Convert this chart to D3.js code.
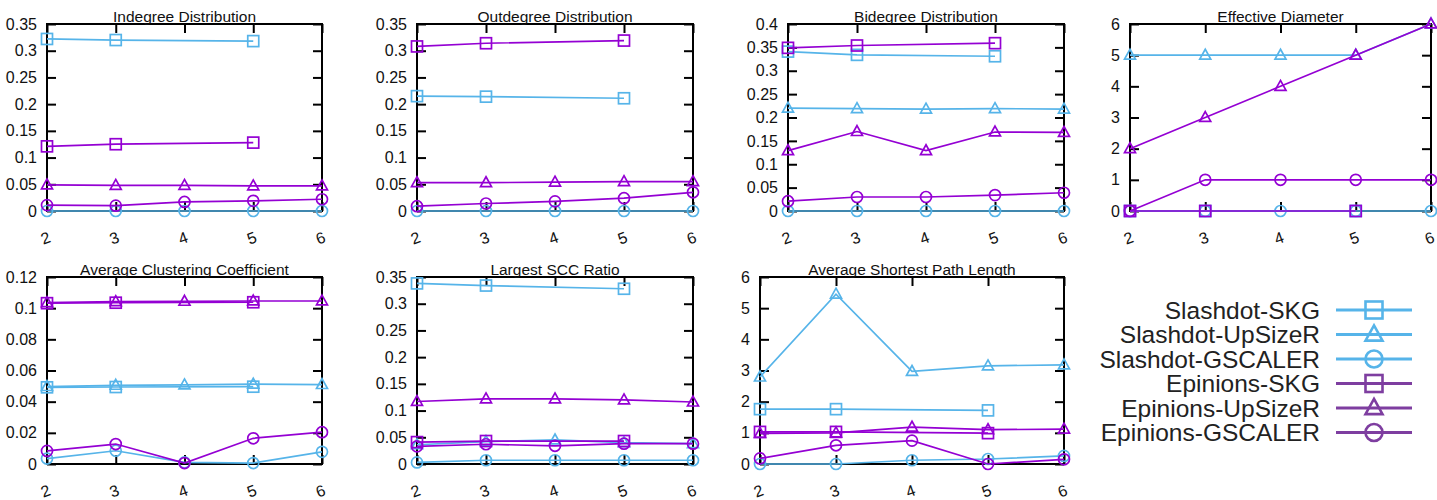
<!DOCTYPE html>
<html>
<head>
<meta charset="utf-8">
<script src="https://cdn.jsdelivr.net/npm/d3@7"></script>
<style>
  body { margin: 0; background: #fff; }
  svg { display: block; font-family: "Liberation Sans", Arial, sans-serif; }
</style>
</head>
<body>
<div id="chart"></div>
<script>
// x values shared by every panel
var xValues = [2, 3, 4, 5, 6];

var seriesNames = ["Slashdot-SKG", "Slashdot-UpSizeR", "Slashdot-GSCALER",
                   "Epinions-SKG", "Epinions-UpSizeR", "Epinions-GSCALER"];

var panelTitles = ["Indegree Distribution", "Outdegree Distribution", "Bidegree Distribution",
                   "Effective Diameter", "Average Clustering Coefficient", "Largest SCC Ratio",
                   "Average Shortest Path Length"];

var yMax  = [0.35, 0.35, 0.4, 6, 0.12, 0.35, 6];
var yStep = [0.05, 0.05, 0.05, 1, 0.02, 0.05, 1];

// one row per series, in the order of seriesNames
var indegree = [
  [0.322, 0.320, null, 0.318, null],
  [null, null, null, null, null],
  [0, 0, 0, 0, 0],
  [0.121, 0.125, null, 0.128, null],
  [0.049, 0.048, 0.048, 0.047, 0.047],
  [0.011, 0.010, 0.017, 0.019, 0.022]
];
var outdegree = [
  [0.215, 0.214, null, 0.211, null],
  [null, null, null, null, null],
  [0, 0, 0, 0, 0],
  [0.308, 0.314, null, 0.319, null],
  [0.053, 0.053, 0.054, 0.055, 0.055],
  [0.009, 0.014, 0.018, 0.024, 0.035]
];
var bidegree = [
  [0.341, 0.334, null, 0.331, null],
  [0.220, 0.219, 0.218, 0.219, 0.218],
  [0, 0, 0, 0, 0],
  [0.349, 0.354, null, 0.359, null],
  [0.129, 0.170, 0.129, 0.169, 0.168],
  [0.021, 0.030, 0.030, 0.034, 0.039]
];
var diameter = [
  [0, 0, null, 0, null],
  [5, 5, 5, 5, 6],
  [0, 0, 0, 0, 0],
  [0, 0, null, 0, null],
  [2, 3, 4, 5, 6],
  [0, 1, 1, 1, 1]
];
var clustering = [
  [0.0492, 0.0494, null, 0.0496, null],
  [0.0497, 0.0505, 0.0508, 0.0512, 0.0510],
  [0.0035, 0.0085, 0.001, 0.0006, 0.0078],
  [0.1032, 0.1035, null, 0.1038, null],
  [0.1035, 0.1042, 0.1044, 0.1046, 0.1046],
  [0.0084, 0.0128, 0.0006, 0.0165, 0.0204]
];
var sccRatio = [
  [0.338, 0.334, null, 0.328, null],
  [0.036, 0.042, 0.045, 0.040, 0.038],
  [0.003, 0.007, 0.007, 0.007, 0.007],
  [0.041, 0.043, null, 0.043, null],
  [0.117, 0.122, 0.122, 0.120, 0.116],
  [0.033, 0.037, 0.034, 0.038, 0.038]
];
var pathLength = [
  [1.76, 1.76, null, 1.72, null],
  [2.79, 5.45, 2.97, 3.15, 3.18],
  [0, 0, 0.12, 0.16, 0.26],
  [1.03, 1.03, null, 0.99, null],
  [0.98, 1.0, 1.18, 1.10, 1.12],
  [0.18, 0.6, 0.75, 0, 0.15]
];

var panelData = [indegree, outdegree, bidegree, diameter, clustering, sccRatio, pathLength];

// layout of the plot boxes
var plotLeft   = [47, 417, 788, 1130, 47, 417, 760];
var plotRight  = [322, 693, 1064, 1431, 322, 693, 1064];
var plotTop    = [24, 24, 24, 24, 277, 277, 277];
var plotBottom = [211, 211, 211, 211, 464, 464, 464];

var blue = "#56b4e9", purple = "#9400d3";
var seriesColor = [blue, blue, blue, purple, purple, purple];
var legendColor = [blue, blue, blue, "#7e3ea0", "#7e3ea0", "#7e3ea0"];
var seriesShape = ["square", "triangle", "circle", "square", "triangle", "circle"];

var svg = d3.select("#chart").append("svg")
    .attr("width", 1437)
    .attr("height", 500);

function drawMarker(g, shape, cx, cy, size, color, sw) {
  if (shape == "square") {
    g.append("rect")
        .attr("x", cx - size / 2).attr("y", cy - size / 2)
        .attr("width", size).attr("height", size)
        .attr("fill", "none").attr("stroke", color).attr("stroke-width", sw);
  } else if (shape == "circle") {
    g.append("circle")
        .attr("cx", cx).attr("cy", cy).attr("r", size / 2)
        .attr("fill", "none").attr("stroke", color).attr("stroke-width", sw);
  } else {
    var h = size * 0.9;
    g.append("path")
        .attr("d", "M" + cx + "," + (cy - h * 0.6) +
                   "L" + (cx + size / 2) + "," + (cy + h * 0.4) +
                   "L" + (cx - size / 2) + "," + (cy + h * 0.4) + "Z")
        .attr("fill", "none").attr("stroke", color).attr("stroke-width", sw)
        .attr("stroke-linejoin", "miter");
  }
}

function fmt(d) { return String(+d.toFixed(4)); }

panelData.forEach(function(series, p) {
  var x = d3.scaleLinear().domain([2, 6]).range([plotLeft[p], plotRight[p]]);
  var y = d3.scaleLinear().domain([0, yMax[p]]).range([plotBottom[p], plotTop[p]]);
  var yTicks = d3.range(0, yMax[p] + yStep[p] / 2, yStep[p]);
  var g = svg.append("g");

  // left axis with labels, ticks pointing inward
  g.append("g")
      .attr("transform", "translate(" + plotLeft[p] + ",0)")
      .call(d3.axisLeft(y).tickValues(yTicks).tickFormat(fmt).tickSizeInner(-9).tickSizeOuter(0).tickPadding(10))
      .call(function(a) { a.select(".domain").remove(); });
  // right axis mirror ticks
  g.append("g")
      .attr("transform", "translate(" + plotRight[p] + ",0)")
      .call(d3.axisRight(y).tickValues(yTicks).tickFormat("").tickSizeInner(-9).tickSizeOuter(0))
      .call(function(a) { a.select(".domain").remove(); });
  // bottom axis
  var bx = g.append("g")
      .attr("transform", "translate(0," + plotBottom[p] + ")")
      .call(d3.axisBottom(x).tickValues(xValues).tickFormat(d3.format("d")).tickSizeInner(-9).tickSizeOuter(0).tickPadding(0))
      .call(function(a) { a.select(".domain").remove(); });
  bx.selectAll("text")
      .attr("dy", null).attr("y", 0)
      .attr("text-anchor", "middle")
      .attr("dominant-baseline", "central")
      .attr("transform", "translate(-2,27) rotate(-20)");
  // top axis mirror ticks
  g.append("g")
      .attr("transform", "translate(0," + plotTop[p] + ")")
      .call(d3.axisTop(x).tickValues(xValues).tickFormat("").tickSizeInner(-9).tickSizeOuter(0))
      .call(function(a) { a.select(".domain").remove(); });

  g.selectAll(".tick line").attr("stroke", "#000").attr("stroke-width", 2);
  g.selectAll(".tick text").attr("font-size", 16).attr("fill", "#111")
      .attr("font-family", "Liberation Sans, Arial, sans-serif");

  // frame
  g.append("rect")
      .attr("x", plotLeft[p]).attr("y", plotTop[p])
      .attr("width", plotRight[p] - plotLeft[p])
      .attr("height", plotBottom[p] - plotTop[p])
      .attr("fill", "none").attr("stroke", "#000").attr("stroke-width", 2);

  // title
  g.append("text")
      .attr("x", (plotLeft[p] + plotRight[p]) / 2)
      .attr("y", plotTop[p] - 2)
      .attr("text-anchor", "middle")
      .attr("font-size", 15.5)
      .attr("fill", "#111")
      .text(panelTitles[p]);

  series.forEach(function(vals, s) {
    var sg = g.append("g");
    // skip gaps so points on either side of a missing value still join
    var kept = [], keptX = [];
    vals.forEach(function(v, i) { if (v != null) { kept.push(v); keptX.push(xValues[i]); } });
    sg.append("path")
        .datum(kept)
        .attr("fill", "none")
        .attr("stroke", seriesColor[s])
        .attr("stroke-width", 1.7)
        .attr("d", d3.line()
            .x(function(d, i) { return x(keptX[i]); })
            .y(function(d) { return y(d); }));
    kept.forEach(function(v, i) {
      drawMarker(sg, seriesShape[s], x(keptX[i]), y(v), 11, seriesColor[s], 1.7);
    });
  });
});

// legend
var legend = svg.append("g");
var legendY = d3.scaleLinear().domain([0, 5]).range([310, 432.5]);
seriesNames.forEach(function(name, s) {
  var ly = legendY(s);
  legend.append("text")
      .attr("x", 1320).attr("y", ly)
      .attr("dy", "0.35em")
      .attr("text-anchor", "end")
      .attr("font-size", 24.5)
      .attr("fill", "#222")
      .text(name);
  legend.append("line")
      .attr("x1", 1336).attr("x2", 1412)
      .attr("y1", ly).attr("y2", ly)
      .attr("stroke", legendColor[s]).attr("stroke-width", 2.8);
  drawMarker(legend, seriesShape[s], 1374, ly, 17, legendColor[s], 2.6);
});
</script>
</body>
</html>
